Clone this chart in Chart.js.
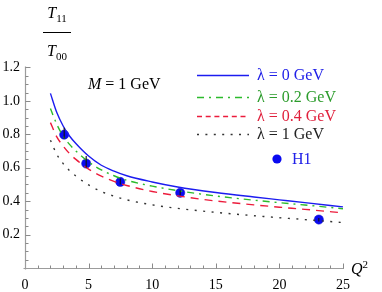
<!DOCTYPE html>
<html><head><meta charset="utf-8">
<script src="https://cdn.jsdelivr.net/npm/chart.js@4/dist/chart.umd.min.js"></script>
<style>
html,body{margin:0;padding:0;background:#fff;}
#wrap{position:relative;width:382px;height:292px;overflow:hidden;background:#fff;}
canvas{position:absolute;left:0;top:0;}
.t{position:absolute;font-family:"Liberation Serif","DejaVu Serif",serif;white-space:nowrap;line-height:1;}
.sub{font-size:11px;position:relative;top:4px;}
.sup{font-size:11px;position:relative;top:-6px;}
#frac{position:absolute;left:37px;top:5px;width:40px;font-family:"Liberation Serif","DejaVu Serif",serif;font-size:16px;text-align:center;line-height:1;}
#frac .bar{width:28px;margin:11px auto 10px auto;border-top:1px solid #000;}
</style></head><body>
<div id="wrap">
<canvas id="c" width="382" height="292"></canvas>
<div id="frac"><div><i>T</i><span class="sub">11</span></div><div class="bar"></div><div><i>T</i><span class="sub">00</span></div></div>
<div class="t" style="left:88px;top:76px;font-size:16px;color:#000"><i>M</i> = 1 GeV</div>
<div class="t" style="left:257px;top:67px;font-size:16px;color:#2020e8">λ = 0 GeV</div>
<div class="t" style="left:257px;top:89px;font-size:16px;color:#2c9c2c">λ = 0.2 GeV</div>
<div class="t" style="left:257px;top:108px;font-size:16px;color:#e0203c">λ = 0.4 GeV</div>
<div class="t" style="left:257px;top:126px;font-size:16px;color:#222">λ = 1 GeV</div>
<div class="t" style="left:292px;top:151px;font-size:16px;color:#2020e8">H1</div>
<div class="t" style="left:351px;top:261px;font-size:16px;color:#000"><i>Q</i><span class="sup">2</span></div>
</div>
<script>
// ---- data ----
const q2 = [2, 2.5, 3, 3.5, 4, 5, 6, 7, 8, 10, 12, 15, 18, 20, 22, 25];
const lam0  = [1.045, 0.93, 0.85, 0.79, 0.745, 0.67, 0.615, 0.58, 0.552, 0.515, 0.485, 0.452, 0.425, 0.408, 0.391, 0.366];
const lam02 = [0.955, 0.86, 0.79, 0.74, 0.70, 0.635, 0.587, 0.552, 0.525, 0.49, 0.463, 0.431, 0.406, 0.391, 0.377, 0.355];
const lam04 = [0.87, 0.785, 0.73, 0.685, 0.65, 0.592, 0.55, 0.518, 0.494, 0.458, 0.432, 0.401, 0.378, 0.364, 0.351, 0.33];
const lam1  = [0.765, 0.68, 0.625, 0.583, 0.55, 0.497, 0.458, 0.43, 0.408, 0.378, 0.357, 0.333, 0.313, 0.301, 0.29, 0.272];
const h1Q2  = [3.08, 4.81, 7.49, 12.2, 23.1];
const h1Val = [0.798, 0.625, 0.515, 0.45, 0.29];
const h1Lo  = [0.775, 0.60, 0.50, 0.435, 0.278];
const h1Hi  = [0.84, 0.67, 0.535, 0.465, 0.30];
const xTicks = [0, 5, 10, 15, 20, 25];
const yTicks = [0.2, 0.4, 0.6, 0.8, 1.0, 1.2];
const seriesNames = ['λ = 0 GeV', 'λ = 0.2 GeV', 'λ = 0.4 GeV', 'λ = 1 GeV'];

const COLORS = ['#1c1cf0', '#2cbb2c', '#ec1c3c', '#333333'];
const DASHES = [[], [7, 5, 2, 5], [8, 6], [2, 6.5]];
const LEG_DASH = [[], [7, 5, 2, 5], [5, 3.7], [2, 6.4]];

const toXY = (xs, ys) => xs.map((x, i) => ({x: x, y: ys[i]}));
const lineData = [lam0, lam02, lam04, lam1];
const datasets = lineData.map((arr, i) => ({
  label: seriesNames[i], data: toXY(q2, arr), showLine: true, pointRadius: 0,
  borderColor: COLORS[i], borderWidth: 1.4, borderDash: DASHES[i],
  cubicInterpolationMode: 'monotone', fill: false
}));
datasets.push({
  label: 'H1', data: toXY(h1Q2, h1Val), showLine: false, pointRadius: 4.6,
  pointBackgroundColor: '#0a0af0', pointBorderColor: '#0a0ad0', pointBorderWidth: 0.5
});

const axesPlugin = {
  id: 'mmaAxes',
  beforeDatasetsDraw(chart) {
    const {ctx, scales: {x, y}} = chart;
    const X = v => x.getPixelForValue(v), Y = v => y.getPixelForValue(v);
    const ax = Math.round(X(0)) + 0.5, ay = Math.round(Y(0)) + 0.5;
    ctx.save();
    ctx.strokeStyle = '#9c9c9c'; ctx.lineWidth = 1.2;
    ctx.beginPath();
    ctx.moveTo(ax - 2, ay); ctx.lineTo(X(25) + 1, ay);
    ctx.moveTo(ax, ay + 1); ctx.lineTo(ax, Y(1.2) - 1);
    ctx.stroke();
    ctx.lineWidth = 1; ctx.strokeStyle = '#8a8a8a';
    ctx.beginPath();
    for (let i = 1; i <= 25; i++) {
      const px = Math.round(X(i)) + 0.5, len = (i % 5 === 0) ? 5 : 3;
      ctx.moveTo(px, ay); ctx.lineTo(px, ay - len);
    }
    for (let k = 1; k <= 24; k++) {
      const py = Math.round(Y(k * 0.05)) + 0.5, len = (k % 4 === 0) ? 5 : 3;
      ctx.moveTo(ax, py); ctx.lineTo(ax + len, py);
    }
    ctx.stroke();
    ctx.restore();
  }
};

const errPlugin = {
  id: 'errBars',
  afterDatasetsDraw(chart) {
    const {ctx, scales: {x, y}} = chart;
    ctx.save(); ctx.strokeStyle = '#111'; ctx.lineWidth = 1.1;
    ctx.beginPath();
    h1Q2.forEach((q, i) => {
      const px = x.getPixelForValue(q);
      ctx.moveTo(px, y.getPixelForValue(h1Lo[i])); ctx.lineTo(px, y.getPixelForValue(h1Hi[i]));
    });
    ctx.stroke(); ctx.restore();
  }
};

const legendPlugin = {
  id: 'mmaLegend',
  afterDraw(chart) {
    const ctx = chart.ctx;
    const ys = [75.5, 97.5, 116.5, 134.5];
    ctx.save();
    ys.forEach((yy, i) => {
      ctx.strokeStyle = COLORS[i]; ctx.lineWidth = 1.4; ctx.setLineDash(LEG_DASH[i]);
      ctx.beginPath(); ctx.moveTo(197, yy); ctx.lineTo(249, yy); ctx.stroke();
    });
    ctx.setLineDash([]);
    ctx.fillStyle = '#0a0af0';
    ctx.beginPath(); ctx.arc(277, 159, 4.6, 0, Math.PI * 2); ctx.fill();
    ctx.restore();
  }
};

const tickFont = {family: '"Liberation Serif", "DejaVu Serif", serif', size: 14};
new Chart(document.getElementById('c'), {
  type: 'scatter',
  data: {datasets: datasets},
  options: {
    responsive: false, animation: false, devicePixelRatio: 1,
    layout: {padding: {left: 0, right: 39, top: 67.5, bottom: 0}},
    plugins: {legend: {display: false}, tooltip: {enabled: false}},
    scales: {
      x: {
        type: 'linear', min: 0, max: 25,
        afterBuildTicks: s => { s.ticks = xTicks.map(v => ({value: v})); },
        afterFit: s => { s.height = 24; },
        grid: {display: false, drawTicks: false}, border: {display: false},
        ticks: {font: tickFont, color: '#000', padding: 9, maxRotation: 0, autoSkip: false,
                callback: v => String(v)}
      },
      y: {
        type: 'linear', min: 0, max: 1.2,
        afterBuildTicks: s => { s.ticks = yTicks.map(v => ({value: v})); },
        afterFit: s => { s.width = 25; },
        grid: {display: false, drawTicks: false}, border: {display: false},
        ticks: {font: tickFont, color: '#000', padding: 5, autoSkip: false,
                callback: v => Number(v).toFixed(1)}
      }
    }
  },
  plugins: [axesPlugin, errPlugin, legendPlugin]
});
</script>
</body></html>
